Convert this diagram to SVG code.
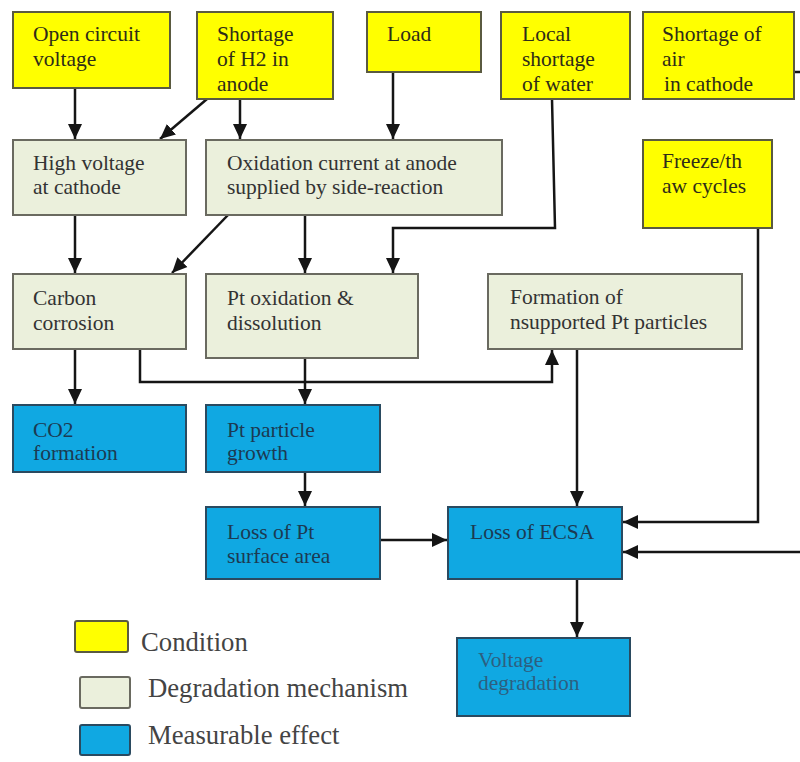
<svg xmlns="http://www.w3.org/2000/svg" width="800" height="762" viewBox="0 0 800 762">
<style>
.c{fill:#ffff00;stroke:#5a5a40;stroke-width:2}
.m{fill:#ebf0dc;stroke:#6a6a60;stroke-width:2}
.e{fill:#10a8e2;stroke:#2a4a60;stroke-width:2}
text{font-family:"Liberation Serif","Times New Roman",serif;font-size:21.5px}
.tc{fill:#2e2c18}
.tm{fill:#333333}
.te{fill:#1c3a52}
.tv{fill:#2d5f80}
.lg{font-size:26.7px;fill:#444444}
.ln{fill:none;stroke:#151515;stroke-width:2.5}
</style>
<defs>
<marker id="ah" markerUnits="userSpaceOnUse" markerWidth="16" markerHeight="16" viewBox="0 0 16 16" refX="15" refY="8" orient="auto">
<path d="M0,1 L15,8 L0,15 Z" fill="#151515"/>
</marker>
</defs>
<rect width="800" height="762" fill="#ffffff"/>
<g id="connectors">
<path class="ln" d="M75 88 V139" marker-end="url(#ah)"/>
<path class="ln" d="M207 99 L160 139" marker-end="url(#ah)"/>
<path class="ln" d="M240 99 V139" marker-end="url(#ah)"/>
<path class="ln" d="M393 72 V139" marker-end="url(#ah)"/>
<path class="ln" d="M552 99 L555 228 H393 V273" marker-end="url(#ah)"/>
<path class="ln" d="M758 228 V522 H623" marker-end="url(#ah)"/>
<path class="ln" d="M794 72 H812 V552 H623" marker-end="url(#ah)"/>
<path class="ln" d="M228 215 L172 273" marker-end="url(#ah)"/>
<path class="ln" d="M305 215 V273" marker-end="url(#ah)"/>
<path class="ln" d="M75 215 V273" marker-end="url(#ah)"/>
<path class="ln" d="M75 349 V404" marker-end="url(#ah)"/>
<path class="ln" d="M140 349 V382 H552 V350" marker-end="url(#ah)"/>
<path class="ln" d="M305 358 V404" marker-end="url(#ah)"/>
<path class="ln" d="M305 472 V506" marker-end="url(#ah)"/>
<path class="ln" d="M380 540 H447" marker-end="url(#ah)"/>
<path class="ln" d="M577 349 V506" marker-end="url(#ah)"/>
<path class="ln" d="M577 579 V637" marker-end="url(#ah)"/>
</g>
<g id="open-circuit-voltage"><rect class="c" x="13" y="12" width="157" height="76"/><text class="tc" x="33" y="41">Open circuit</text><text class="tc" x="33" y="66">voltage</text></g>
<g id="shortage-h2"><rect class="c" x="197" y="12" width="136" height="87"/><text class="tc" x="217" y="41">Shortage</text><text class="tc" x="217" y="66">of H2 in</text><text class="tc" x="217" y="91">anode</text></g>
<g id="load"><rect class="c" x="367" y="12" width="114" height="60"/><text class="tc" x="387" y="41">Load</text></g>
<g id="local-shortage-water"><rect class="c" x="501" y="12" width="129" height="87"/><text class="tc" x="522" y="41">Local</text><text class="tc" x="522" y="66">shortage</text><text class="tc" x="522" y="91">of water</text></g>
<g id="shortage-air"><rect class="c" x="643" y="12" width="151" height="87"/><text class="tc" x="662" y="41">Shortage of</text><text class="tc" x="662" y="66">air</text><text class="tc" x="664" y="91">in cathode</text></g>
<g id="freeze-thaw"><rect class="c" x="643" y="140" width="129" height="88"/><text class="tc" x="662" y="168">Freeze/th</text><text class="tc" x="662" y="193">aw cycles</text></g>
<g id="high-voltage-cathode"><rect class="m" x="13" y="140" width="173" height="75"/><text class="tm" x="33" y="170">High voltage</text><text class="tm" x="33" y="194">at cathode</text></g>
<g id="oxidation-current"><rect class="m" x="206" y="140" width="296" height="75"/><text class="tm" x="227" y="170">Oxidation current at anode</text><text class="tm" x="227" y="194">supplied by side-reaction</text></g>
<g id="carbon-corrosion"><rect class="m" x="13" y="274" width="173" height="75"/><text class="tm" x="33" y="305">Carbon</text><text class="tm" x="33" y="330">corrosion</text></g>
<g id="pt-oxidation"><rect class="m" x="206" y="274" width="212" height="84"/><text class="tm" x="227" y="305">Pt oxidation &amp;</text><text class="tm" x="227" y="330">dissolution</text></g>
<g id="formation-unsupported"><rect class="m" x="488" y="274" width="254" height="75"/><text class="tm" x="510" y="304">Formation of</text><text class="tm" x="510" y="329">nsupported Pt particles</text></g>
<g id="co2-formation"><rect class="e" x="13" y="405" width="173" height="67"/><text class="te" x="33" y="437">CO2</text><text class="te" x="33" y="460">formation</text></g>
<g id="pt-particle-growth"><rect class="e" x="206" y="405" width="174" height="67"/><text class="te" x="227" y="437">Pt particle</text><text class="te" x="227" y="460">growth</text></g>
<g id="loss-pt-surface"><rect class="e" x="206" y="507" width="174" height="72"/><text class="te" x="227" y="539">Loss of Pt</text><text class="te" x="227" y="563">surface area</text></g>
<g id="loss-ecsa"><rect class="e" x="448" y="507" width="174" height="72"/><text class="te" x="470" y="539">Loss of ECSA</text></g>
<g id="voltage-degradation"><rect class="e" x="457" y="638" width="173" height="78"/><text class="tv" x="478" y="667">Voltage</text><text class="tv" x="478" y="690">degradation</text></g>
<g id="legend">
<rect class="c" x="75" y="621" width="53" height="31" rx="2"/><text class="lg" x="141" y="651">Condition</text>
<rect class="m" x="80" y="677" width="50" height="31" rx="2"/><text class="lg" x="148" y="697">Degradation mechanism</text>
<rect class="e" x="80" y="725" width="50" height="30" rx="2"/><text class="lg" x="148" y="744">Measurable effect</text>
</g>
</svg>
